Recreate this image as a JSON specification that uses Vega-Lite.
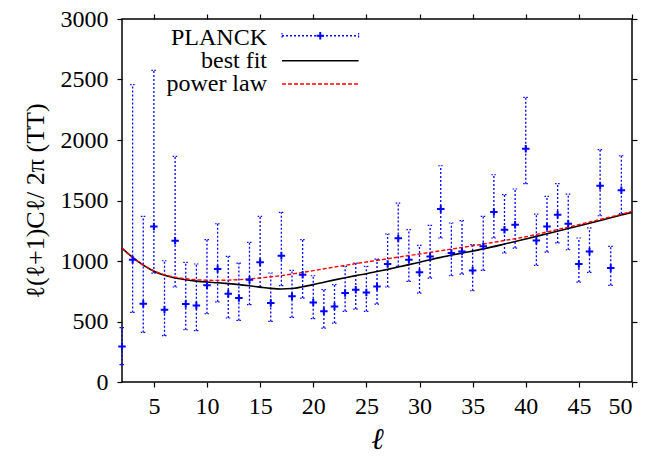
{
  "$schema": "https://vega.github.io/schema/vega-lite/v6.json",
  "width": 510,
  "height": 363,
  "autosize": "none",
  "padding": {"left": 122, "top": 19, "right": 17, "bottom": 74},
  "background": "white",
  "config": {
    "view": {"stroke": "black", "strokeWidth": 1.5},
    "font": "Liberation Serif",
    "axis": {"grid": false, "domain": false, "ticks": true, "tickColor": "black", "tickOpacity": 1, "labelColor": "black", "titleColor": "black", "labelFont": "Liberation Serif", "titleFont": "Liberation Serif", "labelFontSize": 24, "tickSize": 5, "tickWidth": 1.2, "format": "d"}
  },
  "datasets": {
    "planck": [
      {"l": 2, "v": 294, "lo": 143, "hi": 450},
      {"l": 3, "v": 1011, "lo": 575, "hi": 2457},
      {"l": 4, "v": 647, "lo": 410, "hi": 1369},
      {"l": 5, "v": 1286, "lo": 900, "hi": 2575},
      {"l": 6, "v": 597, "lo": 383, "hi": 1002},
      {"l": 7, "v": 1168, "lo": 785, "hi": 1865},
      {"l": 8, "v": 644, "lo": 432, "hi": 989},
      {"l": 9, "v": 633, "lo": 424, "hi": 975},
      {"l": 10, "v": 799, "lo": 564, "hi": 1176},
      {"l": 11, "v": 934, "lo": 663, "hi": 1308},
      {"l": 12, "v": 730, "lo": 529, "hi": 1038},
      {"l": 13, "v": 694, "lo": 509, "hi": 983},
      {"l": 14, "v": 845, "lo": 639, "hi": 1154},
      {"l": 15, "v": 989, "lo": 785, "hi": 1369},
      {"l": 16, "v": 653, "lo": 501, "hi": 901},
      {"l": 17, "v": 1044, "lo": 796, "hi": 1402},
      {"l": 18, "v": 708, "lo": 534, "hi": 922},
      {"l": 19, "v": 887, "lo": 694, "hi": 1176},
      {"l": 20, "v": 658, "lo": 523, "hi": 878},
      {"l": 21, "v": 584, "lo": 446, "hi": 763},
      {"l": 22, "v": 625, "lo": 487, "hi": 804},
      {"l": 23, "v": 735, "lo": 584, "hi": 955},
      {"l": 24, "v": 763, "lo": 603, "hi": 983},
      {"l": 25, "v": 740, "lo": 584, "hi": 955},
      {"l": 26, "v": 790, "lo": 644, "hi": 1016},
      {"l": 27, "v": 975, "lo": 785, "hi": 1223},
      {"l": 28, "v": 1187, "lo": 955, "hi": 1479},
      {"l": 29, "v": 1011, "lo": 831, "hi": 1259},
      {"l": 30, "v": 906, "lo": 735, "hi": 1129},
      {"l": 31, "v": 1038, "lo": 859, "hi": 1294},
      {"l": 32, "v": 1430, "lo": 1190, "hi": 1787},
      {"l": 33, "v": 1066, "lo": 878, "hi": 1314},
      {"l": 34, "v": 1079, "lo": 892, "hi": 1333},
      {"l": 35, "v": 922, "lo": 754, "hi": 1135},
      {"l": 36, "v": 1121, "lo": 922, "hi": 1369},
      {"l": 37, "v": 1405, "lo": 1190, "hi": 1713},
      {"l": 38, "v": 1259, "lo": 1066, "hi": 1548},
      {"l": 39, "v": 1300, "lo": 1107, "hi": 1595},
      {"l": 40, "v": 1928, "lo": 1639, "hi": 2352},
      {"l": 41, "v": 1170, "lo": 964, "hi": 1388},
      {"l": 42, "v": 1286, "lo": 1074, "hi": 1534},
      {"l": 43, "v": 1383, "lo": 1149, "hi": 1639},
      {"l": 44, "v": 1308, "lo": 1093, "hi": 1553},
      {"l": 45, "v": 975, "lo": 826, "hi": 1190},
      {"l": 46, "v": 1079, "lo": 906, "hi": 1273},
      {"l": 47, "v": 1622, "lo": 1374, "hi": 1920},
      {"l": 48, "v": 942, "lo": 799, "hi": 1121},
      {"l": 49, "v": 1584, "lo": 1391, "hi": 1870}
    ],
    "best": [
      {"l": 2, "c": 1107}, {"l": 3, "c": 1030}, {"l": 4, "c": 966}, {"l": 5, "c": 916}, {"l": 6, "c": 882},
      {"l": 7, "c": 860}, {"l": 8, "c": 845}, {"l": 9, "c": 834}, {"l": 10, "c": 826}, {"l": 11, "c": 820},
      {"l": 12, "c": 813}, {"l": 13, "c": 805}, {"l": 14, "c": 795}, {"l": 15, "c": 784}, {"l": 16, "c": 774},
      {"l": 17, "c": 769}, {"l": 18, "c": 773}, {"l": 19, "c": 787}, {"l": 20, "c": 805}, {"l": 21, "c": 825},
      {"l": 22, "c": 844}, {"l": 23, "c": 862}, {"l": 24, "c": 879}, {"l": 25, "c": 895}, {"l": 26, "c": 913},
      {"l": 27, "c": 931}, {"l": 28, "c": 950}, {"l": 29, "c": 970}, {"l": 30, "c": 990}, {"l": 32, "c": 1030},
      {"l": 34, "c": 1065}, {"l": 36, "c": 1100}, {"l": 38, "c": 1140}, {"l": 40, "c": 1182}, {"l": 42, "c": 1225},
      {"l": 44, "c": 1268}, {"l": 46, "c": 1312}, {"l": 48, "c": 1357}, {"l": 50, "c": 1402}
    ],
    "power": [
      {"l": 2, "c": 1107}, {"l": 3, "c": 1030}, {"l": 4, "c": 967}, {"l": 5, "c": 920}, {"l": 6, "c": 887},
      {"l": 7, "c": 866}, {"l": 8, "c": 853}, {"l": 9, "c": 845}, {"l": 10, "c": 841}, {"l": 11, "c": 840},
      {"l": 12, "c": 842}, {"l": 13, "c": 846}, {"l": 14, "c": 852}, {"l": 15, "c": 860}, {"l": 16, "c": 869},
      {"l": 17, "c": 879}, {"l": 18, "c": 892}, {"l": 19, "c": 906}, {"l": 20, "c": 920}, {"l": 22, "c": 950},
      {"l": 24, "c": 978}, {"l": 26, "c": 1005}, {"l": 28, "c": 1032}, {"l": 30, "c": 1058}, {"l": 32, "c": 1085},
      {"l": 34, "c": 1112}, {"l": 36, "c": 1140}, {"l": 38, "c": 1170}, {"l": 40, "c": 1200}, {"l": 42, "c": 1240},
      {"l": 44, "c": 1280}, {"l": 46, "c": 1322}, {"l": 48, "c": 1365}, {"l": 50, "c": 1410}
    ],
    "legtext": [
      {"x": 15.65, "y": 2787, "t": "PLANCK"},
      {"x": 15.65, "y": 2595, "t": "best fit"},
      {"x": 15.65, "y": 2401, "t": "power law"}
    ],
    "legline": [
      {"x": 17.06, "x2": 24.27, "y": 2862, "k": "PLANCK"},
      {"x": 17.06, "x2": 24.27, "y": 2655, "k": "best fit"},
      {"x": 17.06, "x2": 24.27, "y": 2463, "k": "power law"}
    ],
    "legcap": [
      {"x": 17.06, "y": 2862},
      {"x": 24.27, "y": 2862}
    ],
    "legplus": [
      {"x": 20.66, "y": 2862}
    ]
  },
  "resolve": {"axis": {"x": "independent", "y": "independent"}},
  "layer": [
    {
      "data": {"name": "planck"},
      "mark": {"type": "rule", "color": "#0000ff", "strokeWidth": 1.3, "strokeDash": [2, 2]},
      "encoding": {
        "x": {"field": "l", "type": "quantitative", "scale": {"domain": [2, 50], "nice": false, "zero": false},
          "axis": {"orient": "bottom", "values": [5, 10, 15, 20, 25, 30, 35, 40, 45, 50], "title": "ℓ", "titleFontSize": 30, "titleFontWeight": "normal", "titleFontStyle": "italic", "labelPadding": 7, "titlePadding": 6}},
        "y": {"field": "lo", "type": "quantitative", "scale": {"domain": [0, 3000], "nice": false},
          "axis": {"orient": "left", "values": [0, 500, 1000, 1500, 2000, 2500, 3000], "title": "ℓ(ℓ+1)Cℓ/ 2π (TT)", "titleFontSize": 26, "titleFontWeight": "normal", "labelPadding": 9, "titlePadding": 12}},
        "y2": {"field": "hi"}
      }
    },
    {
      "data": {"name": "planck"},
      "transform": [{"fold": ["lo", "hi"], "as": ["which", "val"]}],
      "mark": {"type": "point", "shape": "M-1,0L1,0", "size": 25, "stroke": "#0000ff", "strokeWidth": 1.2, "strokeDash": [1.5, 1.5], "filled": false, "opacity": 1},
      "encoding": {
        "x": {"field": "l", "type": "quantitative", "axis": {"orient": "top", "labels": false, "title": null, "values": [5, 10, 15, 20, 25, 30, 35, 40, 45, 50]}},
        "y": {"field": "val", "type": "quantitative", "axis": {"orient": "right", "labels": false, "title": null, "values": [0, 500, 1000, 1500, 2000, 2500, 3000]}}
      }
    },
    {
      "data": {"name": "best"},
      "mark": {"type": "line", "color": "black", "strokeWidth": 1.6, "interpolate": "monotone"},
      "encoding": {
        "x": {"field": "l", "type": "quantitative", "axis": null},
        "y": {"field": "c", "type": "quantitative", "axis": null}
      }
    },
    {
      "data": {"name": "power"},
      "mark": {"type": "line", "color": "#ff0000", "strokeWidth": 1.4, "strokeDash": [4, 2], "interpolate": "monotone"},
      "encoding": {
        "x": {"field": "l", "type": "quantitative", "axis": null},
        "y": {"field": "c", "type": "quantitative", "axis": null}
      }
    },
    {
      "data": {"name": "planck"},
      "mark": {"type": "point", "shape": "M-1,0L1,0M0,-1L0,1", "size": 56, "stroke": "#0000ff", "strokeWidth": 2, "filled": false, "opacity": 1},
      "encoding": {
        "x": {"field": "l", "type": "quantitative", "axis": null},
        "y": {"field": "v", "type": "quantitative", "axis": null}
      }
    },
    {
      "data": {"name": "legtext"},
      "mark": {"type": "text", "align": "right", "baseline": "alphabetic", "fontSize": 24, "font": "Liberation Serif", "color": "black"},
      "encoding": {
        "x": {"field": "x", "type": "quantitative", "axis": null},
        "y": {"field": "y", "type": "quantitative", "axis": null},
        "text": {"field": "t"}
      }
    },
    {
      "data": {"name": "legline"},
      "mark": {"type": "rule", "strokeWidth": 1.4},
      "encoding": {
        "x": {"field": "x", "type": "quantitative", "axis": null},
        "x2": {"field": "x2"},
        "y": {"field": "y", "type": "quantitative", "axis": null},
        "color": {"field": "k", "type": "nominal", "legend": null, "scale": {"domain": ["PLANCK", "best fit", "power law"], "range": ["#0000ff", "black", "#ff0000"]}},
        "strokeDash": {"field": "k", "type": "nominal", "legend": null, "scale": {"domain": ["PLANCK", "best fit", "power law"], "range": [[2, 2], [1, 0], [4, 2]]}}
      }
    },
    {
      "data": {"name": "legcap"},
      "mark": {"type": "point", "shape": "M0,-1L0,1", "size": 30, "stroke": "#0000ff", "strokeWidth": 1.2, "strokeDash": [1.5, 1.5], "filled": false, "opacity": 1},
      "encoding": {
        "x": {"field": "x", "type": "quantitative", "axis": null},
        "y": {"field": "y", "type": "quantitative", "axis": null}
      }
    },
    {
      "data": {"name": "legplus"},
      "mark": {"type": "point", "shape": "M-1,0L1,0M0,-1L0,1", "size": 56, "stroke": "#0000ff", "strokeWidth": 2, "filled": false, "opacity": 1},
      "encoding": {
        "x": {"field": "x", "type": "quantitative", "axis": null},
        "y": {"field": "y", "type": "quantitative", "axis": null}
      }
    }
  ]
}
